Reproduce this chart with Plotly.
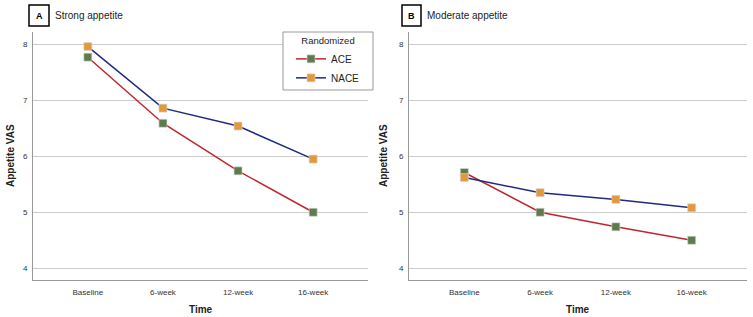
import plotly.graph_objects as go

W, H = 753, 317

times = ["Baseline", "6-week", "12-week", "16-week"]
groups = ["ACE", "NACE"]
strong_ace = [7.77, 6.59, 5.74, 5.00]
strong_nace = [7.96, 6.86, 6.54, 5.95]
moderate_ace = [5.71, 5.00, 4.74, 4.50]
moderate_nace = [5.62, 5.35, 5.23, 5.08]
y_ticks = [4, 5, 6, 7, 8]
panel_letters = ["A", "B"]
panel_titles = ["Strong appetite", "Moderate appetite"]

line_colors = {"ACE": "#C0262D", "NACE": "#1F2A80"}
marker_colors = {"ACE": "#5E7B4E", "NACE": "#E2993C"}
FONT = "Arial, Liberation Sans, sans-serif"


def px(x):
    return x / W


def py(y):
    return 1 - y / H


fig = go.Figure()

series = [
    ("x", "y", {"ACE": strong_ace, "NACE": strong_nace}, True),
    ("x2", "y2", {"ACE": moderate_ace, "NACE": moderate_nace}, False),
]
for xa, ya, data, show in series:
    for g in groups:
        fig.add_trace(go.Scatter(
            x=times, y=data[g], xaxis=xa, yaxis=ya, name=g,
            mode="lines+markers", showlegend=show,
            line=dict(color=line_colors[g], width=1.5),
            marker=dict(symbol="square", size=8, color=marker_colors[g],
                        line=dict(width=0.6, color="#d8d8d8")),
        ))

xcommon = dict(type="category", range=[-0.73, 3.73], showgrid=False,
               showline=True, linecolor="#999999", linewidth=1,
               ticks="outside", ticklen=4, tickcolor="rgba(0,0,0,0)",
               tickfont=dict(size=8, color="#333333", family=FONT),
               zeroline=False, fixedrange=True)
ycommon = dict(range=[3.79, 8.22], tickvals=y_ticks, showgrid=True,
               gridcolor="#cccccc", gridwidth=1, showline=True,
               linecolor="#999999", linewidth=1,
               ticks="outside", ticklen=3, tickcolor="rgba(0,0,0,0)",
               tickfont=dict(size=8, color="#333333", family=FONT),
               zeroline=False, fixedrange=True)

fig.update_layout(
    width=W, height=H, margin=dict(l=0, r=0, t=0, b=0),
    paper_bgcolor="white", plot_bgcolor="white",
    xaxis=dict(domain=[px(33), px(368)], anchor="y", **xcommon),
    yaxis=dict(domain=[py(280), py(32)], anchor="x", **ycommon),
    xaxis2=dict(domain=[px(409), px(747)], anchor="y2", **xcommon),
    yaxis2=dict(domain=[py(280), py(32)], anchor="x2", **ycommon),
    legend=dict(
        x=px(291), y=py(32), xanchor="left", yanchor="top",
        bgcolor="rgba(0,0,0,0)", borderwidth=0,
        font=dict(size=10, color="#222222", family=FONT),
        title=dict(text="Randomized", side="top center",
                   font=dict(size=9.5, color="#222222", family=FONT)),
        itemwidth=30, tracegroupgap=4,
    ),
    font=dict(family=FONT),
)

annotations = []
shapes = []
# legend frame
shapes.append(dict(type="rect", xref="paper", yref="paper", layer="above",
                   x0=px(283), x1=px(373), y0=py(90), y1=py(32),
                   line=dict(color="#999999", width=1), fillcolor="white"))
box_pos = [(29, 49, 53), (402, 421, 425)]
for (x0, x1, tx), letter, title in zip(box_pos, panel_letters, panel_titles):
    shapes.append(dict(type="rect", xref="paper", yref="paper",
                       x0=px(x0), x1=px(x1), y0=py(26), y1=py(5),
                       line=dict(color="black", width=1.5), fillcolor="white"))
    annotations.append(dict(text="<b>%s</b>" % letter, xref="paper", yref="paper",
                            x=px((x0 + x1) / 2), y=py(15.5), showarrow=False,
                            xanchor="center", yanchor="middle",
                            font=dict(size=9, color="black", family=FONT)))
    annotations.append(dict(text=title, xref="paper", yref="paper",
                            x=px(tx), y=py(15.5), showarrow=False,
                            xanchor="left", yanchor="middle",
                            font=dict(size=10, color="#222222", family=FONT)))

for yx in [10, 383]:
    annotations.append(dict(text="<b>Appetite VAS</b>", xref="paper", yref="paper",
                            x=px(yx), y=py(156), showarrow=False, textangle=-90,
                            xanchor="center", yanchor="middle",
                            font=dict(size=10, color="#222222", family=FONT)))
for tx in [(33 + 368) / 2, (409 + 747) / 2]:
    annotations.append(dict(text="<b>Time</b>", xref="paper", yref="paper",
                            x=px(tx), y=py(309), showarrow=False,
                            xanchor="center", yanchor="middle",
                            font=dict(size=10, color="#222222", family=FONT)))

fig.update_layout(annotations=annotations, shapes=shapes)
fig.write_html("out.html",
               config={"displayModeBar": False},
               post_script="document.body.style.margin='0';"
                           "document.body.style.overflow='hidden';")
